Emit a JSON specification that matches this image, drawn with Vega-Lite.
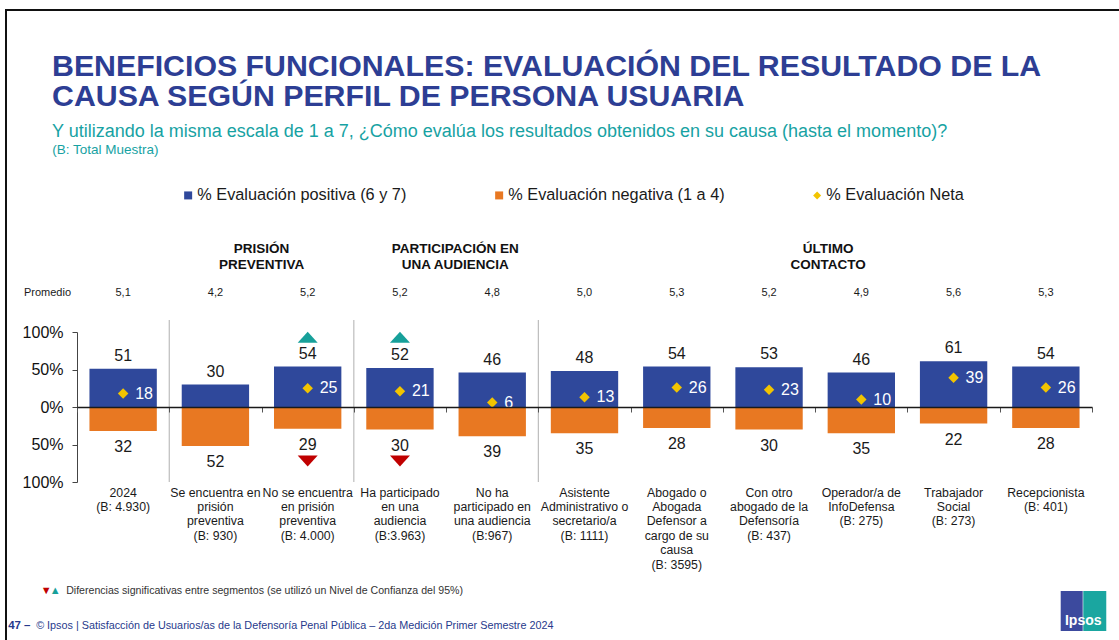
{
  "$schema": "https://vega.github.io/schema/vega-lite/v6.json",
  "width": 1116,
  "height": 633,
  "autosize": {"type": "none"},
  "padding": {"left": 6, "top": 10, "right": -3, "bottom": -3},
  "background": "white",
  "config": {
    "font": "Liberation Sans",
    "view": {"stroke": "#111111", "strokeWidth": 2},
    "axis": {"grid": false}
  },
  "title": {
    "text": ["BENEFICIOS FUNCIONALES: EVALUACIÓN DEL RESULTADO DE LA", "CAUSA SEGÚN PERFIL DE PERSONA USUARIA"],
    "subtitle": "Y utilizando la misma escala de 1 a 7, ¿Cómo evalúa los resultados obtenidos en su causa (hasta el momento)?",
    "anchor": "start",
    "frame": "group",
    "dx": 46,
    "offset": -131,
    "font": "Liberation Sans",
    "fontSize": 30.3,
    "fontWeight": "bold",
    "lineHeight": 30,
    "color": "#2D3E94",
    "subtitleFont": "Liberation Sans",
    "subtitleFontSize": 18,
    "subtitleColor": "#17A2A3",
    "subtitlePadding": 11
  },
  "datasets": {
    "main": [
      {"cat": "2024\n(B: 4.930)", "positiva": 51, "negativa": 32, "neta": 18, "promedio": "5,1", "sig": "no"},
      {"cat": "Se encuentra en\nprisión\npreventiva\n(B: 930)", "positiva": 30, "negativa": 52, "neta": -22, "promedio": "4,2", "sig": "no"},
      {"cat": "No se encuentra\nen prisión\npreventiva\n(B: 4.000)", "positiva": 54, "negativa": 29, "neta": 25, "promedio": "5,2", "sig": "sí"},
      {"cat": "Ha participado\nen una\naudiencia\n(B:3.963)", "positiva": 52, "negativa": 30, "neta": 21, "promedio": "5,2", "sig": "sí"},
      {"cat": "No ha\nparticipado en\nuna audiencia\n(B:967)", "positiva": 46, "negativa": 39, "neta": 6, "promedio": "4,8", "sig": "no"},
      {"cat": "Asistente\nAdministrativo o\nsecretario/a\n(B: 1111)", "positiva": 48, "negativa": 35, "neta": 13, "promedio": "5,0", "sig": "no"},
      {"cat": "Abogado o\nAbogada\nDefensor a\ncargo de su\ncausa\n(B: 3595)", "positiva": 54, "negativa": 28, "neta": 26, "promedio": "5,3", "sig": "no"},
      {"cat": "Con otro\nabogado de la\nDefensoría\n(B: 437)", "positiva": 53, "negativa": 30, "neta": 23, "promedio": "5,2", "sig": "no"},
      {"cat": "Operador/a de\nInfoDefensa\n(B: 275)", "positiva": 46, "negativa": 35, "neta": 10, "promedio": "4,9", "sig": "no"},
      {"cat": "Trabajador\nSocial\n(B: 273)", "positiva": 61, "negativa": 22, "neta": 39, "promedio": "5,6", "sig": "no"},
      {"cat": "Recepcionista\n(B: 401)", "positiva": 54, "negativa": 28, "neta": 26, "promedio": "5,3", "sig": "no"}
    ]
  },
  "data": {"name": "main"},
  "layer": [
    {
      "layer": [
        {
          "mark": {"type": "bar", "width": {"band": 0.73}},
          "encoding": {
            "x": {
              "field": "cat", "type": "nominal", "sort": null,
              "scale": {
                "domain": ["2024\n(B: 4.930)", "Se encuentra en\nprisión\npreventiva\n(B: 930)", "No se encuentra\nen prisión\npreventiva\n(B: 4.000)", "Ha participado\nen una\naudiencia\n(B:3.963)", "No ha\nparticipado en\nuna audiencia\n(B:967)", "Asistente\nAdministrativo o\nsecretario/a\n(B: 1111)", "Abogado o\nAbogada\nDefensor a\ncargo de su\ncausa\n(B: 3595)", "Con otro\nabogado de la\nDefensoría\n(B: 437)", "Operador/a de\nInfoDefensa\n(B: 275)", "Trabajador\nSocial\n(B: 273)", "Recepcionista\n(B: 401)"],
                "range": [71, 1086], "paddingInner": 0, "paddingOuter": 0
              },
              "axis": {
                "orient": "bottom", "offset": -161, "domain": false, "ticks": false,
                "labelPadding": 4, "labelFontSize": 12.3, "labelLineHeight": 14.4,
                "labelExpr": "split(datum.label, '\\n')", "labelColor": "#1a1a1a",
                "labelAngle": 0, "labelLimit": 300, "title": null
              }
            },
            "y": {
              "field": "positiva", "type": "quantitative",
              "scale": {"domain": [-100, 100], "range": [472, 322], "nice": false, "zero": false},
              "axis": {
                "orient": "left", "offset": -71, "values": [-100, -50, 0, 50, 100],
                "labelExpr": "abs(datum.value) + '%'", "labelFontSize": 16, "labelColor": "#111111",
                "labelPadding": 9, "tickSize": 5, "tickColor": "#444444", "domainColor": "#444444",
                "title": "Promedio", "titleAngle": 0, "titleX": -30, "titleY": 282,
                "titleFontSize": 11, "titleFontWeight": "normal", "titleAlign": "center",
                "titleBaseline": "middle", "titleColor": "#1a1a1a", "grid": false
              }
            },
            "y2": {"datum": 0},
            "color": {
              "datum": "% Evaluación positiva (6 y 7)", "type": "nominal",
              "scale": {"domain": ["% Evaluación positiva (6 y 7)", "% Evaluación negativa (1 a 4)", "% Evaluación Neta"], "range": ["#2F489B", "#E87822", "#F2C400"]},
              "legend": {"orient": "none", "legendX": 174, "legendY": 177, "direction": "horizontal", "title": null, "labelFontSize": 16.3, "labelColor": "#1a1a1a", "labelLimit": 400, "symbolSize": 64, "columnPadding": 84, "labelOffset": 1, "padding": 0, "symbolStrokeWidth": 0}
            }
          }
        },
        {
          "mark": {"type": "text", "baseline": "alphabetic", "dy": -8, "fontSize": 16, "color": "#1a1a1a"},
          "encoding": {
            "x": {
              "field": "cat", "type": "nominal", "sort": null,
              "axis": {"orient": "top", "offset": -397, "labels": false, "tickBand": "extent", "tickSize": -5, "tickColor": "#555555", "domainColor": "#1a1a1a", "domainWidth": 1.3, "title": null, "zindex": 2}
            },
            "y": {"field": "positiva", "type": "quantitative"},
            "text": {"field": "positiva", "type": "quantitative"}
          }
        },
        {
          "mark": {"type": "point", "filled": true, "size": 110, "opacity": 1},
          "encoding": {
            "x": {"field": "cat", "type": "nominal", "sort": null, "axis": null},
            "y": {"field": "neta", "type": "quantitative"},
            "color": {
              "datum": "% Evaluación Neta", "type": "nominal",
              "scale": {"domain": ["% Evaluación positiva (6 y 7)", "% Evaluación negativa (1 a 4)", "% Evaluación Neta"], "range": ["#2F489B", "#E87822", "#F2C400"]}
            },
            "shape": {
              "datum": "% Evaluación Neta", "type": "nominal",
              "scale": {"domain": ["% Evaluación positiva (6 y 7)", "% Evaluación negativa (1 a 4)", "% Evaluación Neta"], "range": ["square", "square", "diamond"]},
              "legend": {"orient": "none", "legendX": 174, "legendY": 177, "direction": "horizontal", "title": null, "labelFontSize": 16.3, "labelColor": "#1a1a1a", "labelLimit": 400, "symbolSize": 64, "columnPadding": 84, "labelOffset": 1, "padding": 0, "symbolStrokeWidth": 0}
            }
          }
        },
        {
          "mark": {"type": "text", "align": "left", "baseline": "middle", "dx": 12, "fontSize": 16, "color": "#ffffff"},
          "encoding": {
            "x": {"field": "cat", "type": "nominal", "sort": null, "axis": null},
            "y": {"field": "neta", "type": "quantitative"},
            "text": {"field": "neta", "type": "quantitative"}
          }
        },
        {
          "mark": {"type": "text", "baseline": "middle", "fontSize": 11, "color": "#1a1a1a"},
          "encoding": {
            "x": {"field": "cat", "type": "nominal", "sort": null, "axis": null},
            "y": {"datum": 152.5},
            "text": {"field": "promedio", "type": "nominal"}
          }
        },
        {
          "transform": [{"filter": {"field": "sig", "equal": "sí"}}],
          "mark": {"type": "point", "filled": true, "size": 400, "opacity": 1, "shape": "M0,-0.55L1,0.55L-1,0.55Z", "color": "#17A09A"},
          "encoding": {
            "x": {"field": "cat", "type": "nominal", "sort": null, "axis": null},
            "y": {"datum": 93}
          }
        },
        {
          "data": {"values": [{"cat": "Se encuentra en\nprisión\npreventiva\n(B: 930)"}, {"cat": "Ha participado\nen una\naudiencia\n(B:3.963)"}, {"cat": "Asistente\nAdministrativo o\nsecretario/a\n(B: 1111)"}]},
          "mark": {"type": "rule", "color": "#BDBDBD", "strokeWidth": 1.2},
          "encoding": {
            "x": {"field": "cat", "type": "nominal", "sort": null, "bandPosition": 0, "axis": null},
            "y": {"datum": 116},
            "y2": {"datum": -100}
          }
        },
        {
          "data": {"values": [{"grupo": "PRISIÓN\nPREVENTIVA"}]},
          "mark": {"type": "text", "fontWeight": "bold", "fontSize": 13.5, "lineBreak": "\n", "lineHeight": 16, "baseline": "middle", "color": "#111111"},
          "encoding": {
            "x": {"datum": "No se encuentra\nen prisión\npreventiva\n(B: 4.000)", "bandPosition": 0, "axis": null},
            "y": {"datum": 210.7},
            "text": {"field": "grupo", "type": "nominal"}
          }
        },
        {
          "data": {"values": [{"grupo": "PARTICIPACIÓN EN\nUNA AUDIENCIA"}]},
          "mark": {"type": "text", "fontWeight": "bold", "fontSize": 13.5, "lineBreak": "\n", "lineHeight": 16, "baseline": "middle", "color": "#111111"},
          "encoding": {
            "x": {"datum": "No ha\nparticipado en\nuna audiencia\n(B:967)", "bandPosition": 0.1, "axis": null},
            "y": {"datum": 210.7},
            "text": {"field": "grupo", "type": "nominal"}
          }
        },
        {
          "data": {"values": [{"grupo": "ÚLTIMO\nCONTACTO"}]},
          "mark": {"type": "text", "fontWeight": "bold", "fontSize": 13.5, "lineBreak": "\n", "lineHeight": 16, "baseline": "middle", "color": "#111111"},
          "encoding": {
            "x": {"datum": "Operador/a de\nInfoDefensa\n(B: 275)", "bandPosition": 0.14, "axis": null},
            "y": {"datum": 210.7},
            "text": {"field": "grupo", "type": "nominal"}
          }
        },
        {
          "data": {"values": [{"t": "(B: Total Muestra)"}]},
          "mark": {"type": "text", "align": "left", "baseline": "middle", "dx": -71, "fontSize": 13.5, "color": "#17A2A3"},
          "encoding": {
            "x": {"datum": "2024\n(B: 4.930)", "axis": null},
            "y": {"datum": 342.5},
            "text": {"field": "t", "type": "nominal"}
          }
        },
        {
          "data": {"values": [{"t": "▼"}]},
          "mark": {"type": "text", "align": "center", "baseline": "middle", "dx": -77, "fontSize": 11, "color": "#C00000"},
          "encoding": {
            "x": {"datum": "2024\n(B: 4.930)", "axis": null},
            "y": {"datum": -245.3},
            "text": {"field": "t", "type": "nominal"}
          }
        },
        {
          "data": {"values": [{"t": "▲"}]},
          "mark": {"type": "text", "align": "center", "baseline": "middle", "dx": -68, "fontSize": 11, "color": "#17A09A"},
          "encoding": {
            "x": {"datum": "2024\n(B: 4.930)", "axis": null},
            "y": {"datum": -245.3},
            "text": {"field": "t", "type": "nominal"}
          }
        },
        {
          "data": {"values": [{"t": "Diferencias significativas entre segmentos (se utilizó un Nivel de Confianza del 95%)"}]},
          "mark": {"type": "text", "align": "left", "baseline": "middle", "dx": -57, "fontSize": 10.6, "color": "#333333"},
          "encoding": {
            "x": {"datum": "2024\n(B: 4.930)", "axis": null},
            "y": {"datum": -245.3},
            "text": {"field": "t", "type": "nominal"}
          }
        },
        {
          "data": {"values": [{"t": "47 –"}]},
          "mark": {"type": "text", "align": "left", "baseline": "middle", "dx": -115, "fontSize": 11.5, "fontWeight": "bold", "color": "#273A8C"},
          "encoding": {
            "x": {"datum": "2024\n(B: 4.930)", "axis": null},
            "y": {"datum": -292},
            "text": {"field": "t", "type": "nominal"}
          }
        },
        {
          "data": {"values": [{"t": "© Ipsos | Satisfacción de Usuarios/as de la Defensoría Penal Pública – 2da Medición Primer Semestre 2024"}]},
          "mark": {"type": "text", "align": "left", "baseline": "middle", "dx": -87, "fontSize": 10.8, "color": "#273A8C"},
          "encoding": {
            "x": {"datum": "2024\n(B: 4.930)", "axis": null},
            "y": {"datum": -292},
            "text": {"field": "t", "type": "nominal"}
          }
        },
        {
          "data": {"values": [{"logo": "Ipsos"}]},
          "mark": {"type": "rule", "color": "#3C4A9E", "strokeWidth": 22, "strokeCap": "butt"},
          "encoding": {
            "x": {"datum": "Recepcionista\n(B: 401)", "bandPosition": 0.78, "axis": null},
            "y": {"datum": -245.3},
            "y2": {"datum": -298.7}
          }
        },
        {
          "data": {"values": [{"logo": "Ipsos"}]},
          "mark": {"type": "rule", "color": "#1AA6A0", "strokeWidth": 23, "strokeCap": "butt"},
          "encoding": {
            "x": {"datum": "Recepcionista\n(B: 401)", "bandPosition": 1.03, "axis": null},
            "y": {"datum": -245.3},
            "y2": {"datum": -298.7}
          }
        },
        {
          "data": {"values": [{"logo": "Ipsos"}]},
          "mark": {"type": "text", "align": "center", "baseline": "middle", "fontSize": 14, "fontWeight": "bold", "color": "#ffffff"},
          "encoding": {
            "x": {"datum": "Recepcionista\n(B: 401)", "bandPosition": 0.905, "axis": null},
            "y": {"datum": -285},
            "text": {"field": "logo", "type": "nominal"}
          }
        }
      ]
    },
    {
      "layer": [
        {
          "mark": {"type": "bar", "width": {"band": 0.73}},
          "encoding": {
            "x": {"field": "cat", "type": "nominal", "sort": null, "axis": null},
            "y": {
              "field": "negativa", "type": "quantitative",
              "scale": {"domain": [100, -100], "range": [472, 322], "nice": false, "zero": false},
              "axis": null
            },
            "y2": {"datum": 0},
            "color": {
              "datum": "% Evaluación negativa (1 a 4)", "type": "nominal",
              "scale": {"domain": ["% Evaluación positiva (6 y 7)", "% Evaluación negativa (1 a 4)", "% Evaluación Neta"], "range": ["#2F489B", "#E87822", "#F2C400"]}
            }
          }
        },
        {
          "mark": {"type": "text", "baseline": "top", "dy": 8, "fontSize": 16, "color": "#1a1a1a"},
          "encoding": {
            "x": {"field": "cat", "type": "nominal", "sort": null, "axis": null},
            "y": {"field": "negativa", "type": "quantitative", "axis": null},
            "text": {"field": "negativa", "type": "quantitative"}
          }
        },
        {
          "transform": [{"filter": {"field": "sig", "equal": "sí"}}],
          "mark": {"type": "point", "filled": true, "size": 400, "opacity": 1, "shape": "M-1,-0.55L1,-0.55L0,0.55Z", "color": "#C00000"},
          "encoding": {
            "x": {"field": "cat", "type": "nominal", "sort": null, "axis": null},
            "y": {"datum": 72, "axis": null}
          }
        }
      ]
    }
  ],
  "resolve": {"scale": {"y": "independent"}}
}
